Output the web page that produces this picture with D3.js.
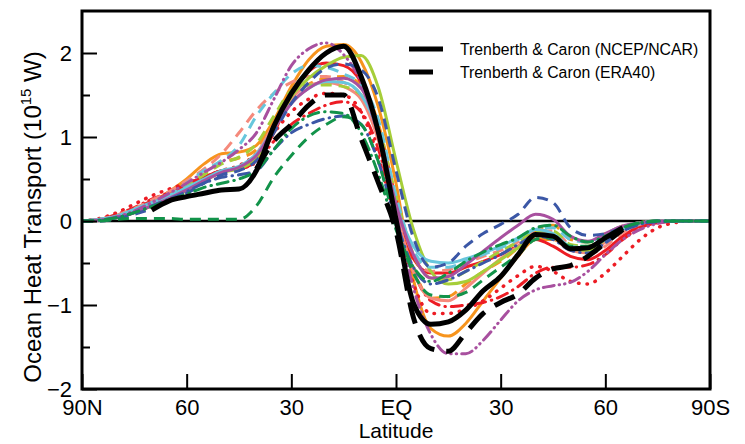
<!DOCTYPE html>
<html>
<head>
<meta charset="utf-8">
<script src="https://cdn.jsdelivr.net/npm/d3@7"></script>
<style>
  body { margin: 0; background: #fff; }
  svg { font-family: "Liberation Sans", Arial, Helvetica, sans-serif; }
</style>
</head>
<body>
<svg id="chart" width="745" height="444"></svg>
<script>
// latitude grid, 90N -> 90S (south negative)
const lats = [90,85,80,75,70,65,60,55,50,45,40,35,30,25,20,15,10,5,0,-5,-10,-15,-20,-25,-30,-35,-40,-45,-50,-55,-60,-65,-70,-75,-80,-85,-90];

// model curves (10^15 W)
const orangeSolid  = [0,0.01,0.05,0.12,0.22,0.35,0.5,0.68,0.8,0.82,0.9,1.2,1.6,1.92,2.08,2.1,1.9,1.35,0.45,-0.7,-1.28,-1.37,-1.22,-0.95,-0.68,-0.42,-0.22,-0.22,-0.33,-0.35,-0.22,-0.1,-0.03,0,0,0,0];
const orangeDash   = [0,0.01,0.05,0.12,0.2,0.3,0.42,0.56,0.7,0.75,0.85,1.15,1.48,1.63,1.7,1.72,1.62,1.15,0.25,-0.55,-0.92,-0.9,-0.75,-0.6,-0.48,-0.32,-0.12,-0.05,-0.22,-0.25,-0.15,-0.06,-0.02,0,0,0,0];
const redSolid     = [0,0.02,0.06,0.14,0.24,0.32,0.42,0.52,0.6,0.62,0.72,1.05,1.5,1.78,1.88,1.85,1.65,1.1,0.25,-0.45,-0.62,-0.62,-0.55,-0.48,-0.4,-0.3,-0.22,-0.3,-0.42,-0.46,-0.35,-0.18,-0.06,-0.02,0,0,0];
const redDash      = [0,0.02,0.08,0.16,0.26,0.34,0.44,0.52,0.6,0.62,0.7,0.95,1.15,1.28,1.38,1.42,1.3,0.85,0.05,-0.6,-0.95,-1.02,-1.0,-0.97,-0.9,-0.78,-0.62,-0.55,-0.55,-0.52,-0.4,-0.22,-0.08,-0.02,0,0,0];
const redDot       = [0,0.03,0.1,0.2,0.3,0.38,0.45,0.52,0.6,0.66,0.8,1.05,1.3,1.45,1.52,1.5,1.3,0.75,0.0,-0.75,-1.1,-1.1,-1.05,-0.95,-0.8,-0.65,-0.54,-0.6,-0.72,-0.75,-0.62,-0.42,-0.22,-0.08,-0.02,0,0];
const salmonSolid  = [0,0.01,0.04,0.1,0.18,0.27,0.37,0.48,0.58,0.64,0.8,1.15,1.45,1.62,1.65,1.6,1.45,0.95,0.1,-0.6,-0.92,-0.95,-0.8,-0.62,-0.45,-0.3,-0.15,-0.2,-0.35,-0.38,-0.25,-0.1,-0.03,0,0,0,0];
const salmonDash   = [0,0.02,0.07,0.15,0.25,0.35,0.48,0.62,0.8,1.05,1.32,1.52,1.65,1.72,1.72,1.65,1.5,1.05,0.2,-0.4,-0.6,-0.58,-0.5,-0.42,-0.35,-0.25,-0.12,-0.12,-0.3,-0.4,-0.3,-0.14,-0.04,0,0,0,0];
const lgreenSolid  = [0,0.01,0.04,0.1,0.18,0.26,0.36,0.48,0.58,0.62,0.75,1.1,1.48,1.7,1.85,1.95,1.97,1.58,0.72,-0.1,-0.6,-0.75,-0.72,-0.6,-0.46,-0.32,-0.18,-0.2,-0.33,-0.35,-0.22,-0.09,-0.02,0,0,0,0];
const lgreenDash   = [0,0.01,0.05,0.12,0.2,0.3,0.42,0.55,0.68,0.76,0.92,1.25,1.55,1.62,1.62,1.6,1.5,1.1,0.3,-0.4,-0.68,-0.7,-0.6,-0.48,-0.36,-0.25,-0.12,-0.12,-0.28,-0.3,-0.2,-0.08,-0.02,0,0,0,0];
const cyanSolid    = [0,0.02,0.06,0.14,0.22,0.3,0.4,0.5,0.6,0.65,0.8,1.1,1.4,1.58,1.66,1.65,1.5,1.05,0.2,-0.3,-0.48,-0.5,-0.45,-0.38,-0.3,-0.2,-0.1,-0.15,-0.3,-0.32,-0.22,-0.1,-0.03,0,0,0,0];
const cyanDash     = [0,0.02,0.05,0.12,0.2,0.3,0.45,0.6,0.72,0.9,1.25,1.52,1.75,1.85,1.83,1.75,1.62,1.2,0.3,-0.35,-0.55,-0.55,-0.48,-0.4,-0.32,-0.22,-0.1,-0.08,-0.22,-0.25,-0.15,-0.06,-0.02,0,0,0,0];
const purpleSolid  = [0,0.01,0.04,0.1,0.18,0.27,0.37,0.48,0.58,0.64,0.78,1.1,1.4,1.58,1.68,1.7,1.58,1.05,0.2,-0.4,-0.68,-0.66,-0.52,-0.36,-0.2,-0.05,0.08,0.02,-0.18,-0.24,-0.15,-0.06,-0.02,0,0,0,0];
const purpleDashDot= [0,0.01,0.05,0.12,0.22,0.33,0.45,0.58,0.7,0.85,1.05,1.45,1.85,2.05,2.12,1.98,1.65,1.0,0.1,-0.8,-1.35,-1.58,-1.58,-1.42,-1.18,-0.95,-0.82,-0.77,-0.73,-0.6,-0.4,-0.22,-0.1,-0.03,0,0,0];
const blueDash     = [0,0,0.03,0.08,0.15,0.25,0.33,0.45,0.55,0.6,0.72,1.05,1.4,1.65,1.82,1.87,1.8,1.45,0.6,-0.2,-0.55,-0.5,-0.3,-0.15,-0.04,0.08,0.28,0.22,-0.08,-0.17,-0.15,-0.08,-0.03,-0.01,0,0,0];
const blueDashDot  = [0,0.01,0.04,0.1,0.18,0.26,0.35,0.45,0.52,0.55,0.6,0.85,1.05,1.15,1.22,1.25,1.15,0.7,0.0,-0.55,-0.75,-0.7,-0.6,-0.5,-0.4,-0.28,-0.18,-0.22,-0.35,-0.38,-0.26,-0.12,-0.04,0,0,0,0];
const greenDash    = [0,0,0.02,0.03,0.03,0.03,0.02,0.02,0.02,0.02,0.18,0.52,0.78,1.0,1.15,1.24,1.15,0.7,-0.05,-0.62,-0.88,-0.9,-0.85,-0.7,-0.55,-0.4,-0.22,-0.2,-0.3,-0.3,-0.2,-0.08,-0.02,0,0,0,0];
const greenDashDot = [0,0.01,0.04,0.1,0.17,0.25,0.32,0.4,0.45,0.5,0.6,0.85,1.1,1.25,1.3,1.28,1.05,0.55,-0.1,-0.55,-0.72,-0.62,-0.48,-0.37,-0.28,-0.2,-0.08,-0.05,-0.18,-0.25,-0.18,-0.08,-0.02,0,0,0,0];

// observational estimates (black)
const ncepNcar = [null,null,null,null,0.13,0.24,0.29,0.33,0.37,0.38,0.6,1.13,1.52,1.8,2.0,2.08,1.72,1.05,0.02,-0.98,-1.23,-1.2,-1.06,-0.83,-0.66,-0.4,-0.16,-0.18,-0.33,-0.32,-0.2,-0.08,null,null,null,null,null];
const era40    = [null,null,null,null,null,null,null,null,null,null,0.62,0.95,1.15,1.38,1.5,1.5,0.98,0.45,-0.12,-1.15,-1.52,-1.55,-1.33,-1.1,-0.97,-0.87,-0.68,-0.57,-0.53,-0.42,-0.26,-0.1,null,null,null,null,null];

const yTicks = [-2,-1,0,1,2];
const yMinor = [-1.5,-0.5,0.5,1.5];
const xTicks = [90,60,30,0,-30,-60,-90];
const xTickLabels = ["90N","60","30","EQ","30","60","90S"];
const legendNames = ["Trenberth & Caron (NCEP/NCAR)","Trenberth & Caron (ERA40)"];

const colors = {
  orange: "#f7941d", red: "#ed1c24", salmon: "#f58a7c", lgreen: "#a6ce39",
  cyan: "#67c6dc", purple: "#a8509f", blue: "#3b57a6", green: "#12934a"
};
const dashes = {
  solid: null, dash: "11,7", dot: "0.5,8", dashdot: "11,6,0.5,6", dashdotdot: "11,5,0.5,5,0.5,5"
};

const models = [
  {v: orangeSolid, c: "orange", d: "solid"},
  {v: orangeDash, c: "orange", d: "dash"},
  {v: redSolid, c: "red", d: "solid"},
  {v: redDash, c: "red", d: "dashdot"},
  {v: redDot, c: "red", d: "dot"},
  {v: salmonSolid, c: "salmon", d: "solid"},
  {v: salmonDash, c: "salmon", d: "dash"},
  {v: lgreenSolid, c: "lgreen", d: "solid"},
  {v: lgreenDash, c: "lgreen", d: "dash"},
  {v: cyanSolid, c: "cyan", d: "solid"},
  {v: cyanDash, c: "cyan", d: "dash"},
  {v: purpleSolid, c: "purple", d: "solid"},
  {v: purpleDashDot, c: "purple", d: "dashdotdot"},
  {v: blueDash, c: "blue", d: "dash"},
  {v: blueDashDot, c: "blue", d: "dashdot"},
  {v: greenDash, c: "green", d: "dash"},
  {v: greenDashDot, c: "green", d: "dashdot"}
];

const svg = d3.select("#chart");
const pLeft = 82, pRight = 710, pTop = 11, pBottom = 389;

const x = d3.scaleLinear().domain([90,-90]).range([pLeft, pRight]);
const y = d3.scaleLinear().domain([-2,2.5]).range([pBottom, pTop]);

const line = d3.line()
  .defined(d => d[1] != null)
  .x(d => x(d[0]))
  .y(d => y(d[1]))
  .curve(d3.curveMonotoneX);

svg.append("defs").append("clipPath").attr("id","clip")
  .append("rect").attr("x", pLeft).attr("y", pTop).attr("width", pRight-pLeft).attr("height", pBottom-pTop);

// zero line
svg.append("line")
  .attr("x1", pLeft).attr("x2", pRight)
  .attr("y1", y(0)).attr("y2", y(0))
  .attr("stroke", "#000").attr("stroke-width", 2.5);

let plot = svg.append("g").attr("clip-path", "url(#clip)");

plot.selectAll(".model")
  .data(models)
  .enter()
  .append("path")
  .attr("class", "model")
  .attr("d", m => line(lats.map((l, i) => [l, m.v[i]])))
  .attr("fill", "none")
  .attr("stroke", m => colors[m.c])
  .attr("stroke-width", m => m.d == "dot" ? 3.5 : 3)
  .attr("stroke-linecap", m => (m.d == "dot" || m.d.startsWith("dashdot")) ? "round" : "butt")
  .attr("stroke-dasharray", m => dashes[m.d]);

plot.append("path")
  .attr("d", line(lats.map((l, i) => [l, ncepNcar[i]])))
  .attr("fill", "none").attr("stroke", "#000").attr("stroke-width", 5);

plot.append("path")
  .attr("d", line(lats.map((l, i) => [l, era40[i]])))
  .attr("fill", "none").attr("stroke", "#000").attr("stroke-width", 5)
  .attr("stroke-dasharray", "22,12");

// axes
svg.append("g").attr("transform", "translate(" + pLeft + ",0)")
  .call(d3.axisLeft(y).tickValues(yTicks).tickSize(-15).tickPadding(10).tickFormat(d3.format("d")));
svg.append("g").attr("transform", "translate(" + pLeft + ",0)")
  .call(d3.axisLeft(y).tickValues(yMinor).tickSize(-8).tickFormat(""));

svg.append("g").attr("transform", "translate(0," + pBottom + ")")
  .call(d3.axisBottom(x).tickValues(xTicks).tickSize(-15).tickPadding(10)
    .tickFormat((d, i) => xTickLabels[i]));

svg.selectAll(".domain").remove();
svg.selectAll(".tick line").attr("stroke", "#000").attr("stroke-width", 2);
svg.selectAll(".tick text").attr("fill", "#000").style("font-size", "22px");

// frame
svg.append("rect")
  .attr("x", pLeft).attr("y", pTop)
  .attr("width", pRight-pLeft).attr("height", pBottom-pTop)
  .attr("fill", "none").attr("stroke", "#000").attr("stroke-width", 3);

// axis titles
let ylab = svg.append("text")
  .attr("transform", "translate(41,217) rotate(-90)")
  .attr("text-anchor", "middle")
  .style("font-size", "24px");
ylab.append("tspan").text("Ocean Heat Transport (10");
ylab.append("tspan").attr("dy", -10).style("font-size", "15px").text("15");
ylab.append("tspan").attr("dy", 10).text(" W)");

svg.append("text")
  .attr("x", x(0)).attr("y", 438)
  .attr("text-anchor", "middle")
  .style("font-size", "21px")
  .text("Latitude");

// legend
let legend = svg.append("g").attr("transform", "translate(409,49)");
let items = legend.selectAll(".leg").data(legendNames).enter().append("g")
  .attr("transform", (d, i) => "translate(0," + i*23 + ")");
items.append("line")
  .attr("x1", 0).attr("x2", 34).attr("y1", 0).attr("y2", 0)
  .attr("stroke", "#000").attr("stroke-width", 5)
  .attr("stroke-dasharray", (d, i) => i == 1 ? "24,20" : null);
items.append("text")
  .attr("x", 51).attr("y", 0).attr("dy", "0.35em")
  .style("font-size", "15.8px")
  .text(d => d);
</script>
</body>
</html>
